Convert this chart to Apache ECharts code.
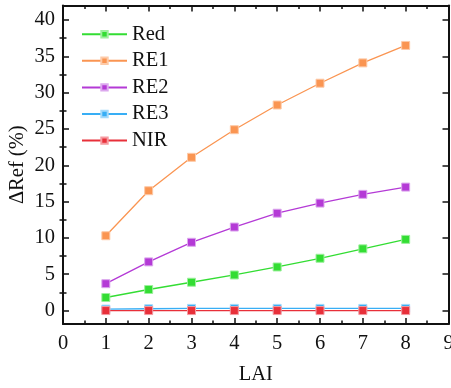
<!DOCTYPE html>
<html>
<head>
<meta charset="utf-8">
<script src="https://cdn.jsdelivr.net/npm/echarts@6/dist/echarts.min.js"></script>
<style>
  html, body { margin: 0; padding: 0; background: #fff; }
  #chart { width: 451px; height: 388px; }
</style>
</head>
<body>
<div id="chart"></div>
<script>
// LAI levels (x) and relative reflectance change per band (%)
const lai = [1, 2, 3, 4, 5, 6, 7, 8];
const bandNames = ['Red', 'RE1', 'RE2', 'RE3', 'NIR'];
const redVals = [1.8, 2.9, 3.9, 4.9, 6.0, 7.2, 8.5, 9.8];
const re1Vals = [10.3, 16.5, 21.1, 24.9, 28.3, 31.3, 34.1, 36.5];
const re2Vals = [3.7, 6.7, 9.4, 11.5, 13.4, 14.8, 16.0, 17.0];
const re3Vals = [0.2, 0.25, 0.3, 0.3, 0.3, 0.3, 0.3, 0.3];
const nirVals = [0.0, 0.0, 0.0, 0.0, 0.0, 0.0, 0.0, 0.0];
const yMajorTicks = [0, 5, 10, 15, 20, 25, 30, 35, 40];
const yMinorTicks = [2.5, 7.5, 12.5, 17.5, 22.5, 27.5, 32.5, 37.5];

const bandColors = ['#33dd33', '#fa9552', '#b43ad6', '#38aef5', '#e8303a'];
const bandBorders = ['#9cf09c', '#fdcaa8', '#dca8ee', '#a4dafb', '#f59aa0'];
const bandValues = [redVals, re1Vals, re2Vals, re3Vals, nirVals];

const FONT = '"Liberation Serif", "Times New Roman", serif';
const FS = 20.5;
const Y_MIN = -1.85, Y_MAX = 42;

const chart = echarts.init(document.getElementById('chart'));

const series = bandNames.map((name, i) => ({
  name,
  type: 'line',
  xAxisIndex: 0,
  yAxisIndex: 0,
  data: lai.map((x, k) => [x, bandValues[i][k]]),
  symbol: 'rect',
  symbolSize: 8,
  lineStyle: { color: bandColors[i], width: 1.3 },
  itemStyle: { color: bandColors[i], borderColor: bandBorders[i], borderWidth: 1 },
  animation: false,
  z: 3 + i
}));

const hiddenLabel = { show: false };

chart.setOption({
  animation: false,
  grid: { left: 63, right: 2.5, top: 5.5, bottom: 64, containLabel: false, outerBoundsMode: 'none' },
  legend: {
    data: bandNames,
    orient: 'vertical',
    left: 81,
    top: 23.7,
    padding: 0,
    itemWidth: 45,
    itemHeight: 8,
    itemGap: 5.6,
    textStyle: { fontFamily: FONT, fontSize: FS, color: '#111', lineHeight: 20 }
  },
  xAxis: [
    {
      type: 'value', min: 0, max: 9, interval: 1, position: 'bottom',
      name: 'LAI', nameLocation: 'middle', nameGap: 40,
      nameTextStyle: { fontFamily: FONT, fontSize: FS, color: '#111' },
      axisLine: { show: true, onZero: false, lineStyle: { color: '#111', width: 2 } },
      axisTick: { show: true, inside: true, length: 6, lineStyle: { color: '#111', width: 1.5 } },
      minorTick: { show: true, splitNumber: 2, length: 3.5, lineStyle: { color: '#111', width: 1.5 } },
      axisLabel: { fontFamily: FONT, fontSize: FS, color: '#111', margin: 9 },
      splitLine: { show: false }
    },
    {
      type: 'value', min: 0, max: 9, interval: 1, position: 'top',
      axisLine: { show: true, onZero: false, lineStyle: { color: '#111', width: 2 } },
      axisTick: { show: true, inside: true, length: 6, lineStyle: { color: '#111', width: 1.5 } },
      minorTick: { show: true, splitNumber: 2, length: 3.5, lineStyle: { color: '#111', width: 1.5 } },
      axisLabel: hiddenLabel,
      splitLine: { show: false }
    }
  ],
  yAxis: [
    {
      type: 'value', min: Y_MIN, max: Y_MAX, position: 'left',
      name: 'ΔRef (%)', nameLocation: 'middle', nameGap: 35, nameMoveOverlap: false,
      nameTextStyle: { fontFamily: FONT, fontSize: FS, color: '#111' },
      axisLine: { show: true, onZero: false, lineStyle: { color: '#111', width: 2 } },
      axisTick: { show: true, inside: true, length: 6, customValues: yMajorTicks, lineStyle: { color: '#111', width: 1.5 } },
      axisLabel: { fontFamily: FONT, fontSize: FS, color: '#111', margin: 8, customValues: yMajorTicks },
      splitLine: { show: false }
    },
    {
      type: 'value', min: Y_MIN, max: Y_MAX, position: 'left',
      axisLine: { show: false },
      axisTick: { show: true, inside: true, length: 3.5, customValues: yMinorTicks, lineStyle: { color: '#111', width: 1.5 } },
      axisLabel: hiddenLabel,
      splitLine: { show: false }
    },
    {
      type: 'value', min: Y_MIN, max: Y_MAX, position: 'right',
      axisLine: { show: true, onZero: false, lineStyle: { color: '#111', width: 2 } },
      axisTick: { show: true, inside: true, length: 6, customValues: yMajorTicks, lineStyle: { color: '#111', width: 1.5 } },
      axisLabel: hiddenLabel,
      splitLine: { show: false }
    },
    {
      type: 'value', min: Y_MIN, max: Y_MAX, position: 'right',
      axisLine: { show: false },
      axisTick: { show: true, inside: true, length: 3.5, customValues: yMinorTicks, lineStyle: { color: '#111', width: 1.5 } },
      axisLabel: hiddenLabel,
      splitLine: { show: false }
    }
  ],
  series
});
</script>
</body>
</html>
